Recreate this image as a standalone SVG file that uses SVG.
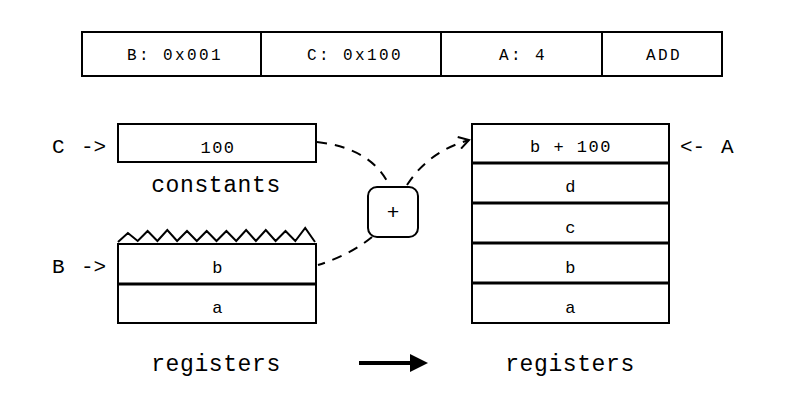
<svg xmlns="http://www.w3.org/2000/svg" width="800" height="400" viewBox="0 0 800 400">
<style>
  .box { fill: #fff; stroke: #000; stroke-width: 2; }
  .div { stroke: #000; stroke-width: 3; }
  .t { font-family: "Liberation Mono", "Courier New", monospace; fill: #000; text-anchor: middle; }
  .s { font-size: 16px; letter-spacing: 2.4px; }
  .m { font-size: 17px; letter-spacing: 1.5px; }
  .l { font-size: 23px; letter-spacing: 0.6px; }
  .p { font-size: 21px; }
  .dash { fill: none; stroke: #000; stroke-width: 2; stroke-dasharray: 10 8; }
</style>
<defs>
  <marker id="open" markerWidth="14" markerHeight="14" refX="12" refY="7" orient="auto" markerUnits="userSpaceOnUse">
    <path d="M2,1 L12,7 L2,13" fill="none" stroke="#000" stroke-width="2"/>
  </marker>
</defs>
<rect width="800" height="400" fill="#fff"/>

<g id="instruction">
  <rect class="box" x="82" y="32" width="640" height="44"/>
  <line x1="261" y1="32" x2="261" y2="76" stroke="#000" stroke-width="2"/>
  <line x1="441" y1="32" x2="441" y2="76" stroke="#000" stroke-width="2"/>
  <line x1="602" y1="32" x2="602" y2="76" stroke="#000" stroke-width="2"/>
  <text class="t s" x="175" y="60">B: 0x001</text>
  <text class="t s" x="355" y="60">C: 0x100</text>
  <text class="t s" x="523" y="60">A: 4</text>
  <text class="t s" x="664" y="60">ADD</text>
</g>

<g id="constants">
  <rect class="box" x="118" y="124" width="198" height="38"/>
  <text class="t m" x="218" y="153">100</text>
  <text class="t l" x="216" y="192">constants</text>
  <text class="t p" x="52" y="153" style="text-anchor:start">C <tspan x="81">-&gt;</tspan></text>
</g>

<g id="left-registers">
  <path d="M118,242 L127.9,233 L137.7,241 L147.6,231 L157.4,241 L167.3,230 L177.1,241 L187,231 L196.8,241 L206.7,231 L216.5,241 L226.4,231 L236.2,241 L246.1,230 L255.9,241 L265.8,230 L275.6,241 L285.5,231 L295.3,241 L305.2,228 L315,242" fill="none" stroke="#000" stroke-width="2"/>
  <rect class="box" x="118" y="244" width="198" height="79"/>
  <line class="div" x1="118" y1="284" x2="316" y2="284"/>
  <text class="t m" x="218" y="273">b</text>
  <text class="t m" x="218" y="313">a</text>
  <text class="t p" x="52" y="273" style="text-anchor:start">B <tspan x="81">-&gt;</tspan></text>
  <text class="t l" x="216" y="371">registers</text>
</g>

<g id="adder">
  <rect class="box" x="368" y="187" width="50" height="50" rx="9"/>
  <text class="t" x="393" y="219" style="font-size:21px">+</text>
</g>

<g id="right-registers">
  <rect class="box" x="472" y="124" width="197" height="199"/>
  <line class="div" x1="472" y1="163" x2="669" y2="163"/>
  <line class="div" x1="472" y1="203" x2="669" y2="203"/>
  <line class="div" x1="472" y1="243" x2="669" y2="243"/>
  <line class="div" x1="472" y1="283" x2="669" y2="283"/>
  <text class="t m" x="571" y="152">b + 100</text>
  <text class="t m" x="571" y="192">d</text>
  <text class="t m" x="571" y="233">c</text>
  <text class="t m" x="571" y="273">b</text>
  <text class="t m" x="571" y="313">a</text>
  <text class="t p" x="680" y="153" style="text-anchor:start">&lt;- <tspan x="721">A</tspan></text>
  <text class="t l" x="570" y="371">registers</text>
</g>

<g id="connectors">
  <path class="dash" d="M317,142 Q370,148 388,183"/>
  <path class="dash" d="M407,185 Q428,152 469,140" marker-end="url(#open)"/>
  <path class="dash" d="M372,237 Q350,255 318,265"/>
  <line x1="359" y1="363" x2="412" y2="363" stroke="#000" stroke-width="4"/>
  <polygon points="410,354 428,363 410,372" fill="#000"/>
</g>
</svg>
